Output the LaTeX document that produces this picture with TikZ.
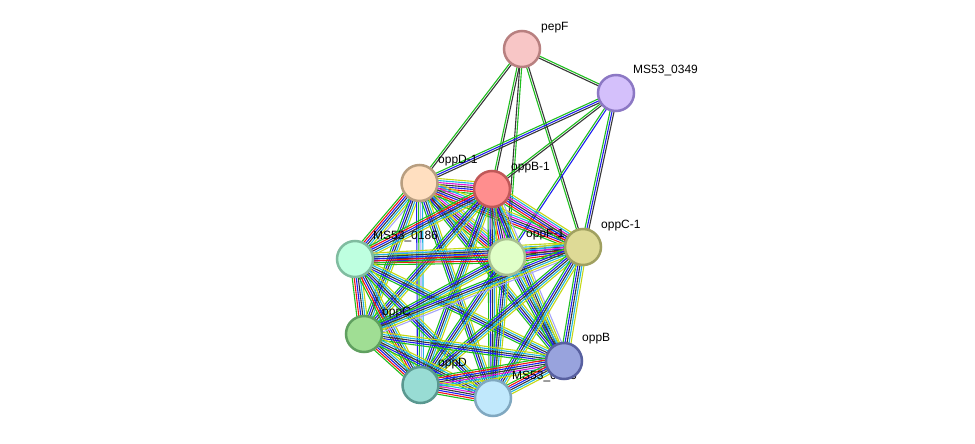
\documentclass[tikz,border=0pt]{standalone}
\usepackage{fontspec}
\setmainfont{Liberation Sans}
\usetikzlibrary{calc,backgrounds}
\definecolor{nb}{RGB}{30,190,30}
\definecolor{fu}{RGB}{240,20,20}
\definecolor{co}{RGB}{30,30,240}
\definecolor{cx}{RGB}{55,55,55}
\definecolor{ex}{RGB}{220,20,220}
\definecolor{db}{RGB}{30,180,225}
\definecolor{tm}{RGB}{195,215,20}
\definecolor{ho}{RGB}{165,165,250}
\tikzset{prot/.style={circle, line width=2.5pt, minimum size=36pt, inner sep=0pt}}
\tikzset{plabel/.style={anchor=west, inner sep=1pt, font=\fontsize{12}{14}\selectfont}}
\tikzset{slink/.style={line width=1.1pt}}
% one bundle of parallel evidence lines between two proteins
\newcommand{\strlink}[3]{%
  \foreach \col [count=\k] in {#3} {\xdef\nlines{\k}}%
  \foreach \col [count=\k] in {#3} {%
    \pgfmathsetmacro{\off}{(\k-(\nlines+1)/2)*2}%
    \draw[slink, draw=\col] let \p1=($(#2)-(#1)$), \n1={atan2(\y1,\x1)+90} in
      ($(#1)+(\n1:\off pt)$) -- ($(#2)+(\n1:\off pt)$);
  }%
}

\begin{document}
\begin{tikzpicture}[x=1pt,y=-1pt]
		\useasboundingbox (0,0) rectangle (975,444);

		\node[plabel] (pepF-l) at (540,28) {pepF};
		\node[plabel] (ms0349-l) at (632,71) {MS53\_0349};
		\node[plabel] (oppD1-l) at (437,161) {oppD-1};
		\node[plabel] (oppB1-l) at (510,168) {oppB-1};
		\node[plabel] (ms0186-l) at (372,237) {MS53\_0186};
		\node[plabel] (oppF1-l) at (525,235) {oppF-1};
		\node[plabel] (oppC1-l) at (600,226) {oppC-1};
		\node[plabel] (oppC-l) at (381,313) {oppC};
		\node[plabel] (oppB-l) at (581,339) {oppB};
		\node[plabel] (oppD-l) at (437,364) {oppD};
		\node[plabel] (ms0185-l) at (511,377) {MS53\_0185};

		\node[prot, draw={rgb,255:red,184;green,128;blue,128}, fill={rgb,255:red,248;green,198;blue,198}] (pepF) at (522,49) {};
		\node[prot, draw={rgb,255:red,140;green,120;blue,196}, fill={rgb,255:red,212;green,192;blue,251}] (ms0349) at (616,93) {};
		\node[prot, draw={rgb,255:red,184;green,158;blue,128}, fill={rgb,255:red,255;green,223;blue,192}] (oppD1) at (419.5,183) {};
		\node[prot, draw={rgb,255:red,192;green,88;blue,88}, fill={rgb,255:red,255;green,142;blue,142}] (oppB1) at (492,189) {};
		\node[prot, draw={rgb,255:red,128;green,188;blue,160}, fill={rgb,255:red,190;green,255;blue,224}] (ms0186) at (355,259) {};
		\node[prot, draw={rgb,255:red,168;green,192;blue,144}, fill={rgb,255:red,224;green,255;blue,200}] (oppF1) at (507,257) {};
		\node[prot, draw={rgb,255:red,160;green,160;blue,96}, fill={rgb,255:red,222;green,218;blue,150}] (oppC1) at (583,247) {};
		\node[prot, draw={rgb,255:red,96;green,160;blue,96}, fill={rgb,255:red,160;green,222;blue,148}] (oppC) at (364,334) {};
		\node[prot, draw={rgb,255:red,88;green,96;blue,160}, fill={rgb,255:red,152;green,163;blue,221}] (oppB) at (564,361) {};
		\node[prot, draw={rgb,255:red,90;green,152;blue,144}, fill={rgb,255:red,152;green,220;blue,212}] (oppD) at (420.5,385) {};
		\node[prot, draw={rgb,255:red,128;green,168;blue,192}, fill={rgb,255:red,192;green,232;blue,252}] (ms0185) at (493,398) {};

		\begin{scope}[on background layer]
			\strlink{pepF}{ms0349}{cx,nb}
			\strlink{pepF}{oppD1}{nb,cx}
			\strlink{pepF}{oppB1}{nb,cx}
			\strlink{pepF}{oppF1}{cx,nb}
			\strlink{pepF}{oppC1}{nb,cx}
			\strlink{ms0349}{oppD1}{nb,co,cx}
			\strlink{ms0349}{oppB1}{nb,cx}
			\strlink{ms0349}{oppF1}{nb,co}
			\strlink{ms0349}{oppC1}{nb,co,cx}

			\strlink{oppD1}{oppB1}{nb,fu,co,cx,ex,db,tm}
			\strlink{oppD1}{ms0186}{nb,fu,co,cx,db,tm,ho}
			\strlink{oppD1}{oppF1}{nb,fu,co,cx,ex,db,tm,ho}
			\strlink{oppD1}{oppC1}{nb,fu,co,cx,ex,db,tm}
			\strlink{oppD1}{oppC}{nb,co,cx,db,tm}
			\strlink{oppD1}{oppB}{nb,co,cx,db,tm}
			\strlink{oppD1}{oppD}{co,nb,ho,db}
			\strlink{oppD1}{ms0185}{nb,co,cx,db,tm}
			\strlink{oppB1}{ms0186}{nb,fu,co,cx,db,tm}
			\strlink{oppB1}{oppF1}{nb,fu,co,cx,ex,db,tm}
			\strlink{oppB1}{oppC1}{nb,fu,co,cx,ex,db,tm}
			\strlink{oppB1}{oppC}{nb,co,cx,db,tm}
			\strlink{oppB1}{oppB}{nb,co,cx,db,tm,ho}
			\strlink{oppB1}{oppD}{nb,co,cx,db,tm}
			\strlink{oppB1}{ms0185}{nb,co,cx,db,tm}
			\strlink{ms0186}{oppF1}{nb,fu,co,cx,db,tm,ho}
			\strlink{ms0186}{oppC1}{nb,fu,co,cx,db,tm}
			\strlink{ms0186}{oppC}{nb,fu,co,cx,db,tm}
			\strlink{ms0186}{oppB}{nb,co,cx,db,tm}
			\strlink{ms0186}{oppD}{nb,fu,co,cx,db,tm}
			\strlink{ms0186}{ms0185}{nb,co,cx,db,tm}
			\strlink{oppF1}{oppC1}{nb,fu,co,cx,ex,db,tm}
			\strlink{oppF1}{oppC}{nb,co,cx,db,tm}
			\strlink{oppF1}{oppB}{nb,co,cx,db,tm}
			\strlink{oppF1}{oppD}{nb,co,cx,db,tm}
			\strlink{oppF1}{ms0185}{nb,co,cx,db,tm}
			\strlink{oppC1}{oppC}{nb,co,cx,db,tm,ho}
			\strlink{oppC1}{oppB}{nb,co,cx,db,tm}
			\strlink{oppC1}{oppD}{nb,co,cx,db,tm}
			\strlink{oppC1}{ms0185}{nb,co,cx,db,tm}
			\strlink{oppC}{oppB}{nb,co,cx,db,tm}
			\strlink{oppC}{oppD}{nb,fu,co,cx,db,tm}
			\strlink{oppC}{ms0185}{nb,co,cx,db,tm}
			\strlink{oppB}{oppD}{nb,fu,co,cx,ex,db,tm}
			\strlink{oppB}{ms0185}{nb,fu,co,cx,db,tm}
			\strlink{oppD}{ms0185}{nb,fu,co,cx,ex,db,tm}
		\end{scope}
	\end{tikzpicture}
\end{document}
